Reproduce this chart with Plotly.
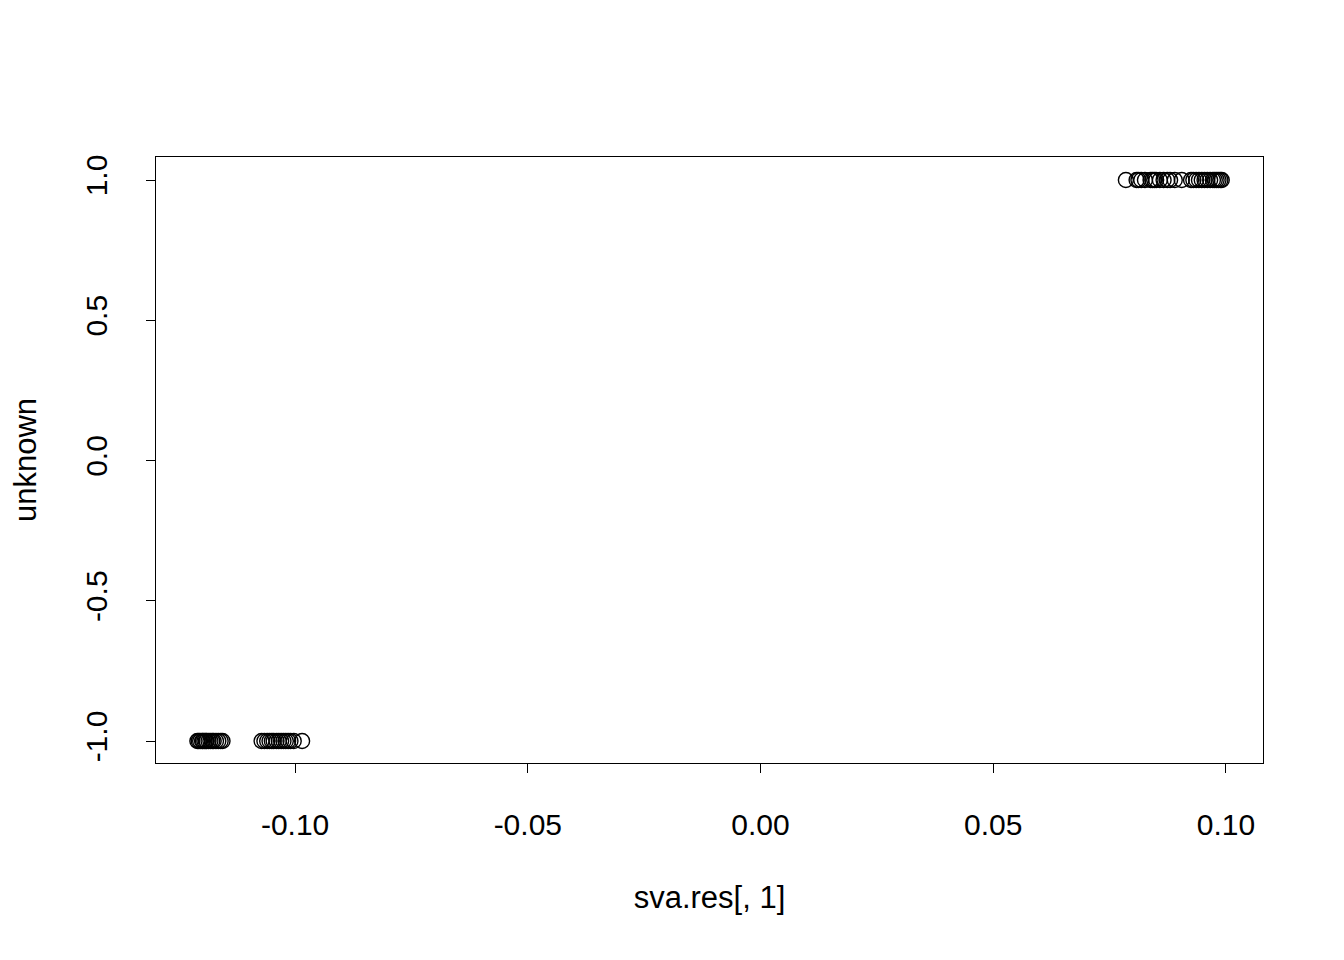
import plotly.graph_objects as go

x_low = [-0.1210, -0.1207, -0.1204, -0.1200, -0.1198, -0.1195, -0.1192, -0.1190,
         -0.1186, -0.1182, -0.1178, -0.1175, -0.1170, -0.1165, -0.1160, -0.1156,
         -0.1072, -0.1066, -0.1060, -0.1055, -0.1050, -0.1046, -0.1040, -0.1035,
         -0.1030, -0.1025, -0.1020, -0.1015, -0.1010, -0.1003, -0.0985]
y_low = [-1] * len(x_low)
x_high = [0.0785, 0.0808, 0.0812, 0.0818, 0.0826, 0.0838, 0.0842, 0.0846, 0.0850,
          0.0858, 0.0866, 0.0874, 0.0880, 0.0890, 0.0905, 0.0925, 0.0930, 0.0936,
          0.0942, 0.0948, 0.0954, 0.0960, 0.0966, 0.0972, 0.0976, 0.0980, 0.0984,
          0.0988, 0.0991]
y_high = [1] * len(x_high)

x_ticks = [-0.10, -0.05, 0.00, 0.05, 0.10]
x_tick_labels = ["-0.10", "-0.05", "0.00", "0.05", "0.10"]
y_ticks = [-1.0, -0.5, 0.0, 0.5, 1.0]
y_tick_labels = ["-1.0", "-0.5", "0.0", "0.5", "1.0"]

font = dict(family="Liberation Sans, Arial, Helvetica, sans-serif", size=30, color="black")
title_font = dict(family="Liberation Sans, Arial, Helvetica, sans-serif", size=31, color="black")

fig = go.Figure()
fig.add_trace(go.Scatter(
    x=x_low + x_high, y=y_low + y_high, mode="markers",
    marker=dict(symbol="circle-open", size=15, color="black", line=dict(width=1.4)),
    showlegend=False, hoverinfo="x+y"))

fig.update_layout(
    width=1344, height=960,
    margin=dict(l=148, r=89, t=149, b=205),
    paper_bgcolor="white", plot_bgcolor="white",
    font=font,
    xaxis=dict(range=[-0.12989, 0.10796], tickvals=x_ticks, ticktext=x_tick_labels,
               ticks="outside", ticklen=9, tickwidth=1.4, tickcolor="black",
               showgrid=False, zeroline=False, showline=True, linecolor="black",
               linewidth=1.4, mirror=True, ticklabelstandoff=26,
               title=dict(text="sva.res[, 1]", standoff=46, font=title_font)),
    yaxis=dict(range=[-1.0784, 1.082], tickvals=y_ticks, ticktext=y_tick_labels,
               ticks="outside", ticklen=9, tickwidth=1.4, tickcolor="black",
               tickangle=-90,
               showgrid=False, zeroline=False, showline=True, linecolor="black",
               linewidth=1.4, mirror=True, ticklabelstandoff=27,
               title=dict(text="unknown", standoff=35, font=title_font)),
)

fig.write_html("out.html")
